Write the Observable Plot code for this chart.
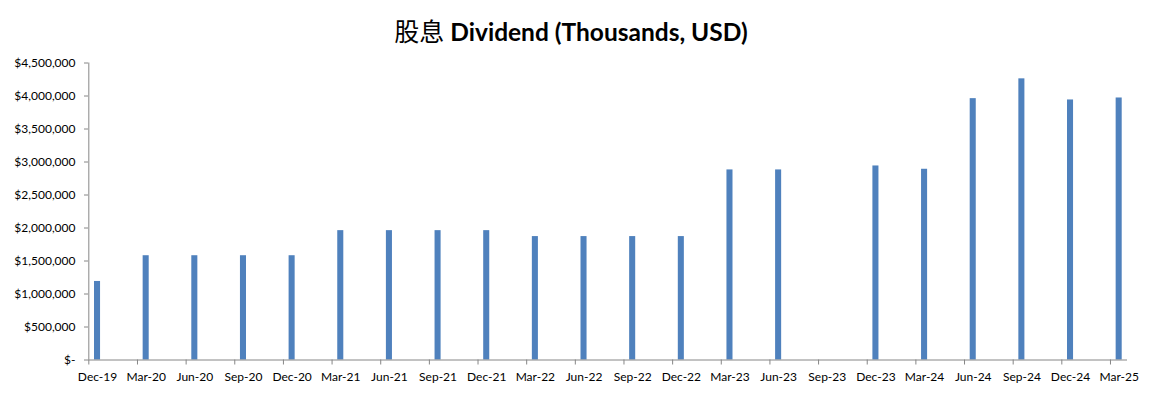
<!DOCTYPE html>
<html>
<head>
<meta charset="utf-8">
<script src="https://cdn.jsdelivr.net/npm/d3@7"></script>
<script src="https://cdn.jsdelivr.net/npm/@observablehq/plot@0.6"></script>
<style>
  html, body { margin: 0; padding: 0; background: #fff; }
  #title {
    height: 40px; padding-top: 10px; line-height: 40px;
    text-align: center; box-sizing: content-box; padding-right: 7px; width: 1142px;
    font-family: Lato, "Open Sans", sans-serif; font-size: 24.5px; font-weight: bold; color: #000;
    white-space: nowrap;
  }
  #title .cjk { font-family: "Noto Sans CJK SC", sans-serif; font-weight: normal; font-size: 25px; }
</style>
</head>
<body>
<div id="title"><span class="cjk">股息</span> Dividend (Thousands, USD)</div>
<div id="chart"></div>
<script>
const dates = ["Dec-19","Mar-20","Jun-20","Sep-20","Dec-20","Mar-21","Jun-21","Sep-21","Dec-21","Mar-22","Jun-22","Sep-22","Dec-22","Mar-23","Jun-23","Sep-23","Dec-23","Mar-24","Jun-24","Sep-24","Dec-24","Mar-25"];
const dividends = [1190000,1580000,1580000,1580000,1580000,1960000,1960000,1960000,1960000,1870000,1870000,1870000,1870000,2880000,2880000,null,2940000,2890000,3960000,4260000,3940000,3970000];
const yTicks = [0,500000,1000000,1500000,2000000,2500000,3000000,3500000,4000000,4500000];

const data = dates.map((d, i) => ({date: d, value: dividends[i]}));
const fmt = d3.format(",");
const axisColor = "#868686";

const chart = Plot.plot({
  width: 1149,
  height: 349,
  marginTop: 12.5,
  marginBottom: 39.5,
  marginLeft: 72.7,
  marginRight: 6,
  style: {fontFamily: "Lato, 'Open Sans', sans-serif", fontSize: "12px", color: "#000", background: "#fff"},
  x: {domain: dates, padding: 0, round: false, label: null},
  y: {domain: [0, 4500000], label: null},
  marks: [
    Plot.barY(data.filter(d => d.value != null), {x: "date", y: "value", fill: "#4f81bd", insetLeft: 21.3, insetRight: 21.3}),
    Plot.ruleY([0], {stroke: axisColor, insetLeft: 15.3, insetRight: 16}),
    Plot.ruleX([dates[0]], {stroke: axisColor, dx: -8.7}),
    Plot.ruleX(dates, {x: d => d, y1: 0, y2: 0, insetBottom: -5, dx: -8.7, stroke: axisColor}),
    Plot.axisX({tickSize: 0, tickPadding: 12, label: null}),
    Plot.axisY({ticks: yTicks, tickFormat: d => d === 0 ? "$-" : "$" + fmt(d), tickSize: 4, tickPadding: 9, dx: 15.3, stroke: axisColor, label: null})
  ]
});
document.getElementById("chart").appendChild(chart);
</script>
</body>
</html>
